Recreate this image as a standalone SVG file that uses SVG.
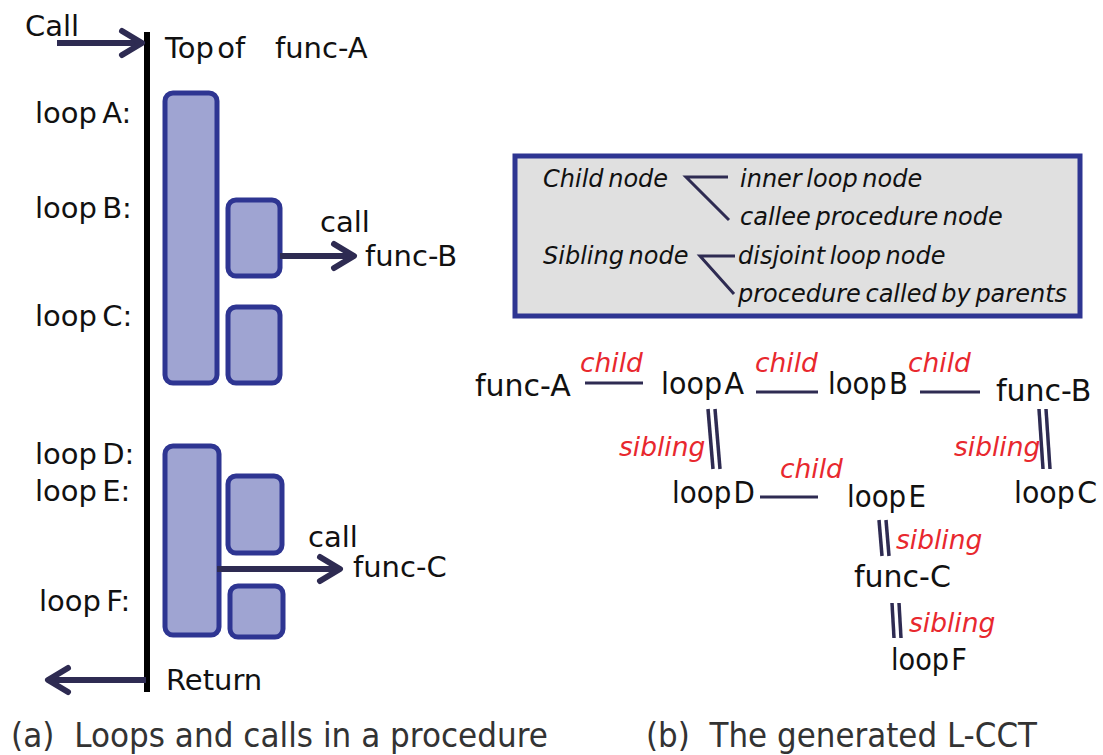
<svg xmlns="http://www.w3.org/2000/svg" width="1103" height="755" viewBox="0 0 1103 755">
<defs>
<style>
text{font-family:"DejaVu Sans","Liberation Sans",sans-serif;fill:#111}
.lbl{font-size:29px;word-spacing:-4px}
.nd{font-size:30px;word-spacing:-7px}
.cap{font-size:34px;fill:#333}
.it{font-style:italic;font-size:24px;word-spacing:-3px}
.red{font-style:italic;font-size:26.5px;fill:#e8282e}
.blk{fill:#9fa4d2;stroke:#2e3592;stroke-width:5}
.arr{stroke:#2e2b52;stroke-width:6;fill:none}
.head{stroke:#2e2b52;stroke-width:6;fill:none;stroke-linecap:round;stroke-linejoin:round}
.edge{stroke:#2e2b52;stroke-width:3;fill:none}
.sib{stroke:#2e2b52;stroke-width:3.5;fill:none}
</style>
</defs>
<rect width="1103" height="755" fill="#fff"/>

<g id="panel-a">
<line x1="147" y1="32" x2="147" y2="692" stroke="#000" stroke-width="6"/>
<g id="call-in">
<line class="arr" x1="57" y1="43" x2="140" y2="43"/>
<polyline class="head" points="122,31 142,43 122,55"/>
<text class="lbl" x="25" y="36">Call</text>
</g>
<text class="lbl" x="165" y="58" style="word-spacing:-6px">Top of</text>
<text class="lbl" x="275" y="58">func-A</text>

<g id="loopA"><rect class="blk" x="165" y="93" width="52" height="290" rx="8"/></g>
<g id="loopB"><rect class="blk" x="228" y="200" width="52" height="76" rx="8"/></g>
<g id="loopC"><rect class="blk" x="228" y="307" width="52" height="76" rx="8"/></g>
<g id="loopD"><rect class="blk" x="165" y="446" width="54" height="189" rx="8"/></g>
<g id="loopE"><rect class="blk" x="228" y="476" width="54" height="77" rx="8"/></g>
<g id="loopF"><rect class="blk" x="230" y="586" width="53" height="51" rx="8"/></g>

<g id="callB">
<line class="arr" x1="280" y1="256" x2="352" y2="256"/>
<polyline class="head" points="334,244 354,256 334,268"/>
<text class="lbl" x="320" y="232">call</text>
<text class="lbl" x="365" y="266">func-B</text>
</g>
<g id="callC">
<line class="arr" x1="217" y1="569" x2="338" y2="569"/>
<polyline class="head" points="320,557 340,569 320,581"/>
<text class="lbl" x="308" y="547">call</text>
<text class="lbl" x="353" y="577">func-C</text>
</g>
<g id="ret">
<line class="arr" x1="146" y1="680" x2="52" y2="680"/>
<polyline class="head" points="68,668 48,680 68,692"/>
<text class="lbl" x="166" y="690">Return</text>
</g>

<text class="lbl" x="35" y="123">loop A:</text>
<text class="lbl" x="35" y="218">loop B:</text>
<text class="lbl" x="35" y="326">loop C:</text>
<text class="lbl" x="35" y="464">loop D:</text>
<text class="lbl" x="35" y="501">loop E:</text>
<text class="lbl" x="39" y="611">loop F:</text>

<text class="cap" x="11" y="747" textLength="537" lengthAdjust="spacingAndGlyphs" xml:space="preserve">(a)  Loops and calls in a procedure</text>
</g>

<g id="legend">
<rect x="515" y="156" width="565" height="160" fill="#e0e0e0" stroke="#2e3592" stroke-width="5"/>
<text class="it" x="543" y="187">Child node</text>
<text class="it" x="740" y="187">inner loop node</text>
<text class="it" x="740" y="225">callee procedure node</text>
<text class="it" x="543" y="264">Sibling node</text>
<text class="it" x="738" y="264">disjoint loop node</text>
<text class="it" x="738" y="302">procedure called by parents</text>
<polyline class="edge" points="728,177 686,177 729,220" stroke-width="2.5"/>
<polyline class="edge" points="735,256 700,256 734,294" stroke-width="2.5"/>
</g>

<g id="connectors">
<line class="edge" x1="585" y1="383" x2="643" y2="383"/>
<line class="edge" x1="756" y1="392" x2="818" y2="392"/>
<line class="edge" x1="920" y1="392" x2="980" y2="392"/>
<line class="edge" x1="760" y1="497" x2="818" y2="497"/>
<line class="sib" x1="708" y1="409" x2="713" y2="469"/>
<line class="sib" x1="715" y1="409" x2="720" y2="469"/>
<line class="sib" x1="1039" y1="409" x2="1043" y2="469"/>
<line class="sib" x1="1046" y1="409" x2="1050" y2="469"/>
<line class="sib" x1="879" y1="520" x2="882" y2="556"/>
<line class="sib" x1="886" y1="520" x2="889" y2="556"/>
<line class="sib" x1="892" y1="603" x2="894" y2="638"/>
<line class="sib" x1="899" y1="603" x2="901" y2="638"/>
<text class="red" x="580" y="372">child</text>
<text class="red" x="755" y="372">child</text>
<text class="red" x="908" y="372">child</text>
<text class="red" x="780" y="478">child</text>
<text class="red" x="619" y="456">sibling</text>
<text class="red" x="954" y="456">sibling</text>
<text class="red" x="896" y="549">sibling</text>
<text class="red" x="909" y="632">sibling</text>
</g>

<g id="n-funcA"><text class="nd" x="475" y="396">func-A</text></g>
<g id="n-loopA"><text class="nd" x="661" y="394" textLength="83" lengthAdjust="spacingAndGlyphs">loop A</text></g>
<g id="n-loopB"><text class="nd" x="828" y="394" textLength="80" lengthAdjust="spacingAndGlyphs">loop B</text></g>
<g id="n-funcB"><text class="nd" x="996" y="401">func-B</text></g>
<g id="n-loopD"><text class="nd" x="672" y="503" textLength="83" lengthAdjust="spacingAndGlyphs">loop D</text></g>
<g id="n-loopE"><text class="nd" x="847" y="507" textLength="79" lengthAdjust="spacingAndGlyphs">loop E</text></g>
<g id="n-loopC"><text class="nd" x="1014" y="503" textLength="83" lengthAdjust="spacingAndGlyphs">loop C</text></g>
<g id="n-funcC"><text class="nd" x="854" y="587">func-C</text></g>
<g id="n-loopF"><text class="nd" x="891" y="670" textLength="76" lengthAdjust="spacingAndGlyphs">loop F</text></g>

<text class="cap" x="646" y="747" textLength="391" lengthAdjust="spacingAndGlyphs" xml:space="preserve">(b)  The generated L-CCT</text>
</svg>
